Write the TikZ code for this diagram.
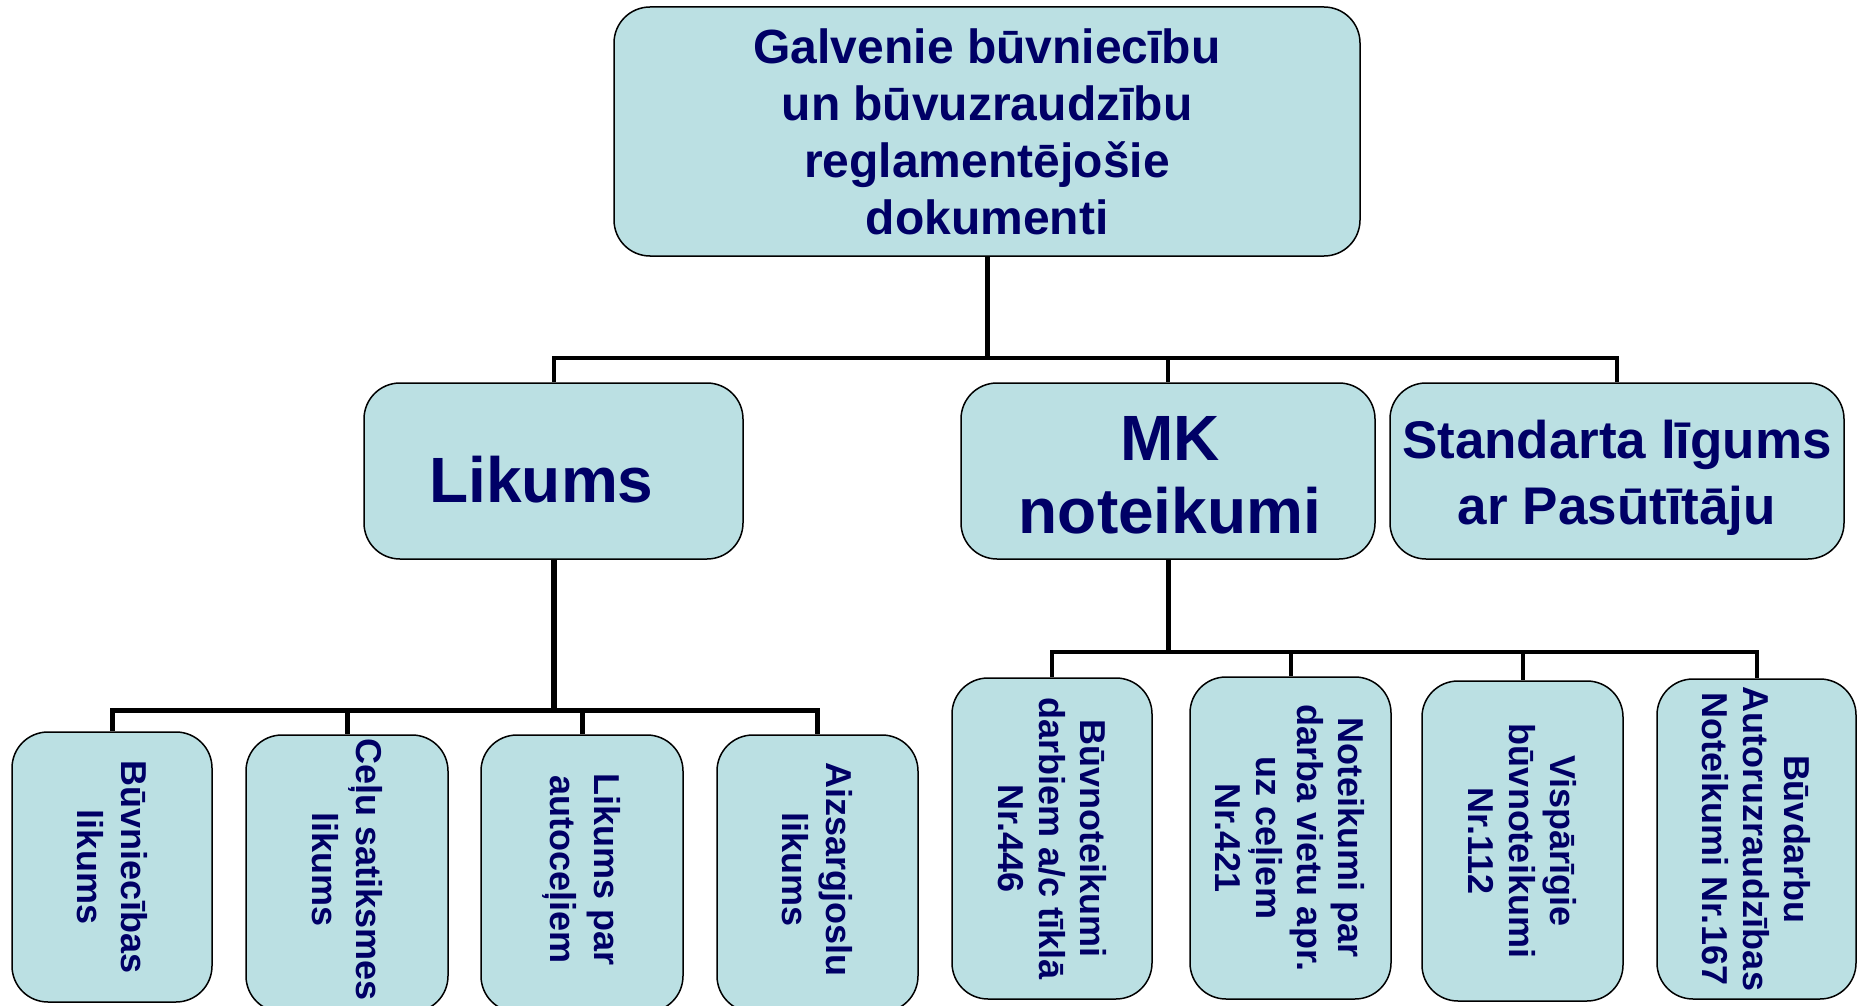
\documentclass[tikz,border=0pt]{standalone}
\usepackage{fontspec}
\setmainfont{Liberation Sans}
\definecolor{txtc}{HTML}{000066}
\definecolor{boxfill}{HTML}{BBE0E3}
\begin{document}
\begin{tikzpicture}[x=1pt,y=-1pt,
 box/.style={draw=black, line width=1.5pt, fill=boxfill, rounded corners=36pt, inner sep=0pt, align=center, text=txtc, font=\bfseries},
 htext/.style={align=center, inner sep=0pt, text=txtc},
 vtext/.style={rotate=-90, align=center, inner sep=0pt, text=txtc, font=\bfseries\fontsize{36}{44}\selectfont},
 vtextr/.style={vtext, font=\bfseries\fontsize{36}{41}\selectfont},
 conn/.style={draw=black, line width=4pt},
]
\useasboundingbox (0,0) rectangle (1858,1006);
\fill[white] (0,0) rectangle (1858,1006);

% top level
\node[box, minimum width=746pt, minimum height=249pt, font=\bfseries\fontsize{48}{57}\selectfont] (top) at (987,131.5) {Galvenie būvniecību\\un būvuzraudzību\\reglamentējošie\\dokumenti};

% second level
\node[box, minimum width=379pt, minimum height=176pt] (lik) at (553.5,471) {};
\node[box, minimum width=414pt, minimum height=176pt] (mk) at (1168,471) {};
\node[box, minimum width=454pt, minimum height=176pt] (std) at (1617,471) {};
\node[htext, font=\bfseries\fontsize{64}{71}\selectfont] (likt) at ([xshift=-12pt,yshift=-9pt]lik.center) {Likums};
\node[htext, font=\bfseries\fontsize{64}{73}\selectfont] (mkt) at ([xshift=2pt,yshift=-4pt]mk.center) {MK\\noteikumi};
\node[htext, font=\bfseries\fontsize{53}{66}\selectfont] (stdt) at ([yshift=-7pt]std.center) {Standarta līgums\\ar Pasūtītāju};

% third level left
\node[box, minimum width=200pt, minimum height=270pt] (l1) at (112,867) {};
\node[box, minimum width=202pt, minimum height=277pt] (l2) at (347,873.5) {};
\node[box, minimum width=202pt, minimum height=277pt] (l3) at (582,873.5) {};
\node[box, minimum width=201pt, minimum height=277pt] (l4) at (817.5,873.5) {};
\node[vtext] (l1t) at (l1.center) {Būvniecības\\likums};
\node[vtext] (l2t) at ([yshift=4pt]l2.center) {Ceļu satiksmes\\likums};
\node[vtext] (l3t) at ([yshift=4pt]l3.center) {Likums par\\autoceļiem};
\node[vtext] (l4t) at ([yshift=4pt]l4.center) {Aizsargjoslu\\likums};

% third level right
\node[box, minimum width=200pt, minimum height=321pt] (r1) at (1052,838.5) {};
\node[box, minimum width=201pt, minimum height=322pt] (r2) at (1290.5,838) {};
\node[box, minimum width=201pt, minimum height=320pt] (r3) at (1522.5,841) {};
\node[box, minimum width=199pt, minimum height=320pt] (r4) at (1756.5,839) {};
\node[vtextr] (r1t) at (r1.center) {Būvnoteikumi\\darbiem a/c tīklā\\Nr.446};
\node[vtextr] (r2t) at (r2.center) {Noteikumi par\\darba vietu apr.\\uz ceļiem\\Nr.421};
\node[vtextr] (r3t) at (r3.center) {Vispārīgie\\būvnoteikumi\\Nr.112};
\node[vtextr] (r4t) at (r4.center) {Būvdarbu\\Autoruzraudzības\\Noteikumi Nr.167};

% connectors
\coordinate (bus1) at (top.south |- 0,358);
\draw[conn, line width=5pt] (top.south) -- (bus1);
\draw[conn] (lik.north) |- (bus1) -| (std.north);
\draw[conn] (bus1) -| (mk.north);

\coordinate (bus2) at (lik.south |- 0,710);
\draw[conn, line width=6pt] (lik.south) -- (bus2);
\draw[conn, line width=5pt] (l1.north) |- (bus2) -| (l4.north);
\draw[conn, line width=5pt] (bus2) -| (l2.north);
\draw[conn, line width=5pt] (bus2) -| (l3.north);

\coordinate (bus3) at (mk.south |- 0,652);
\draw[conn, line width=5pt] (mk.south) -- (bus3);
\draw[conn] (r1.north) |- (bus3) -| (r4.north);
\draw[conn] (bus3) -| (r2.north);
\draw[conn] (bus3) -| (r3.north);
\end{tikzpicture}
\end{document}
